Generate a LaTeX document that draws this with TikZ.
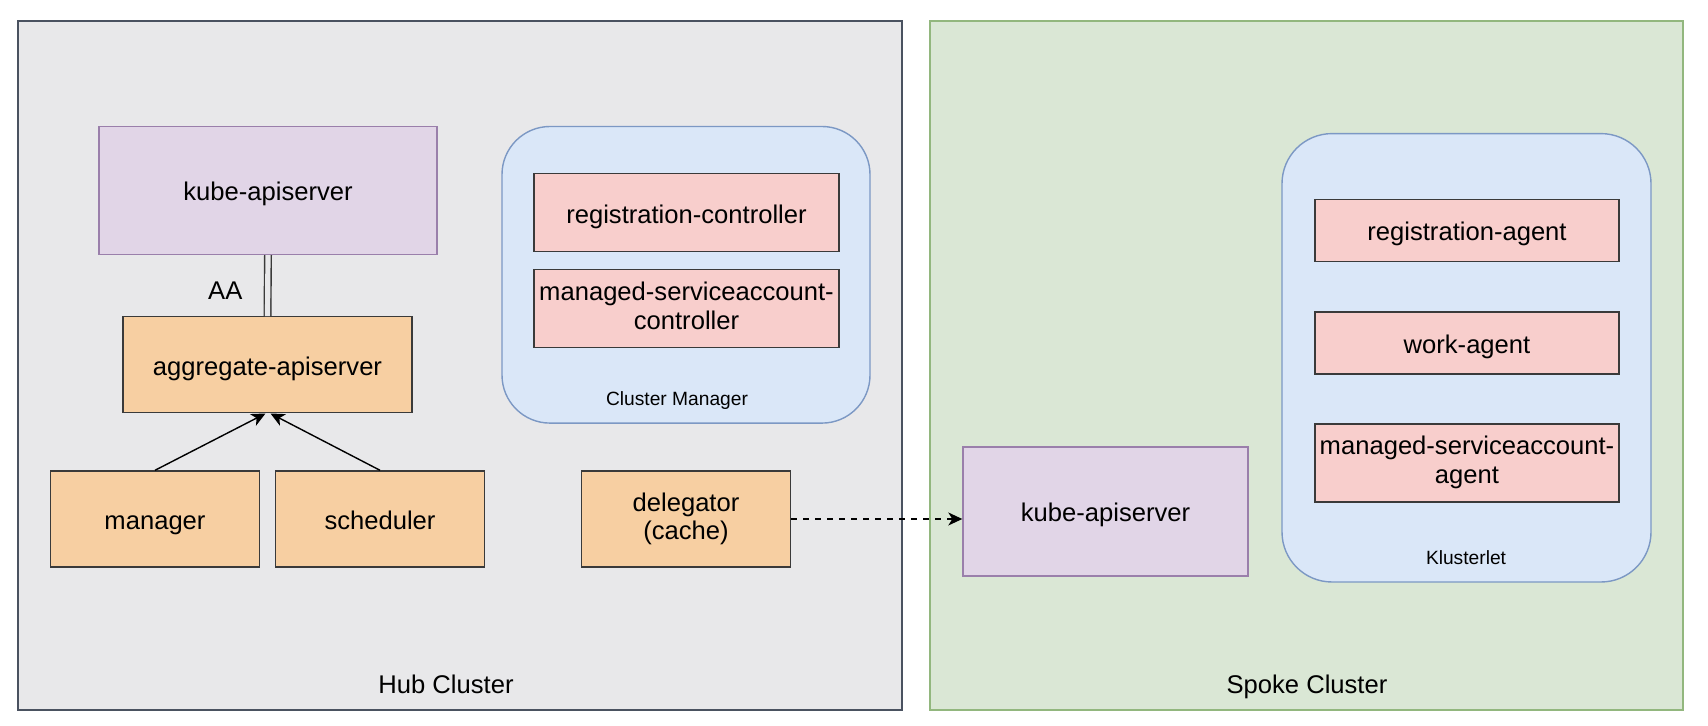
\documentclass[tikz,border=0pt]{standalone}
\usepackage{fontspec}
\setmainfont{Liberation Sans}
\usetikzlibrary{arrows.meta}
\definecolor{hubfill}{HTML}{E8E8EA}
\definecolor{hubline}{HTML}{4A5260}
\definecolor{spokefill}{HTML}{DAE7D5}
\definecolor{spokeline}{HTML}{92B77E}
\definecolor{apifill}{HTML}{E1D5E7}
\definecolor{apiline}{HTML}{9A7FAB}
\definecolor{orangefill}{HTML}{F7CFA2}
\definecolor{pinkfill}{HTML}{F8CECC}
\definecolor{boxline}{HTML}{3A3A3A}
\definecolor{bluefill}{HTML}{DAE7F8}
\definecolor{blueline}{HTML}{7C98C4}
\newcommand{\boxstrut}{\rule[-3pt]{0pt}{16.4pt}}
\begin{document}
\begin{tikzpicture}[x=0.5pt, y=-0.5pt,
    txt/.style={font=\fontsize{12.8}{14.2}\selectfont, align=center, text=black,
        execute at begin node=\boxstrut, execute at end node=\boxstrut},
    twoline/.style={execute at begin node=\rule[-3pt]{0pt}{19pt}},
    small/.style={font=\fontsize{9.6}{11}\selectfont},
    cluster/.style={rectangle, line width=0.7pt, inner sep=0pt},
    group/.style={rectangle, rounded corners=24pt, draw=blueline, fill=bluefill, line width=0.7pt, inner sep=0pt},
    api/.style={txt, rectangle, draw=apiline, fill=apifill, line width=0.7pt, inner sep=2pt},
    comp/.style={txt, rectangle, draw=boxline, fill=orangefill, line width=0.7pt, inner sep=2pt},
    ctrl/.style={txt, rectangle, draw=boxline, fill=pinkfill, line width=0.7pt, inner sep=2pt},
    tip/.style={-{Stealth[length=7pt, width=6.5pt, inset=2pt]}}]
    \useasboundingbox (0,0) rectangle (1708,726);
    \node[cluster, draw=hubline, fill=hubfill, minimum width=442pt, minimum height=344.5pt] (hub) at (460,365.5) {};
    \node[cluster, draw=spokeline, fill=spokefill, minimum width=376.5pt, minimum height=344.5pt] (spoke) at (1306.5,365.5) {};
    \node[txt] (hublabel) at (446,683.5) {Hub Cluster};
    \node[txt] (spokelabel) at (1307,683.5) {Spoke Cluster};
    \node[group, minimum width=184pt, minimum height=148.3pt] (cm) at (686,274.8) {};
    \node[small] (cmlabel) at (677,400.5) {Cluster Manager};
    \node[group, rounded corners=25pt, minimum width=184.5pt, minimum height=224.2pt] (klet) at (1466.5,357.8) {};
    \node[small] (kletlabel) at (1466,557.4) {Klusterlet};
    \node[api, minimum width=169pt, minimum height=64pt] (hubapi) at (268,190.5) {kube-apiserver};
    \node[comp, minimum width=144.5pt, minimum height=48pt] (agg) at (267.5,364.8) {aggregate-apiserver};
    \node[comp, minimum width=104.5pt, minimum height=48pt] (manager) at (155,519) {manager};
    \node[comp, minimum width=104.5pt, minimum height=48pt] (scheduler) at (380,519) {scheduler};
    \node[comp, twoline, minimum width=104.5pt, minimum height=48pt] (delegator) at (686,519) {delegator\\(cache)};
    \node[ctrl, minimum width=152.5pt, minimum height=39pt] (regctl) at (686.5,212.7) {registration-controller};
    \node[ctrl, twoline, minimum width=152.5pt, minimum height=39pt] (msactl) at (686.5,308.6) {managed-serviceaccount-\\controller};
    \node[ctrl, minimum width=152pt, minimum height=31pt] (regagent) at (1467,230.3) {registration-agent};
    \node[ctrl, minimum width=152pt, minimum height=31pt] (workagent) at (1467,342.9) {work-agent};
    \node[ctrl, twoline, minimum width=152pt, minimum height=39pt] (msaagent) at (1467,462.9) {managed-serviceaccount-\\agent};
    \node[api, minimum width=142.5pt, minimum height=64.5pt] (spokeapi) at (1105.5,511.5) {kube-apiserver};
    \draw[boxline, line width=0.7pt, double=hubfill, double distance=2.6pt] (hubapi.south) -- node[txt, left=9pt, yshift=-1.7pt] {AA} (agg.north);
    \draw[tip, black, line width=0.7pt] (manager.north) -- ([xshift=-1pt]agg.south);
    \draw[tip, black, line width=0.7pt] (scheduler.north) -- ([xshift=1.5pt]agg.south);
    \draw[tip, black, line width=0.7pt, dashed] (delegator.east) -- (delegator.east -| spokeapi.west);
\end{tikzpicture}
\end{document}
